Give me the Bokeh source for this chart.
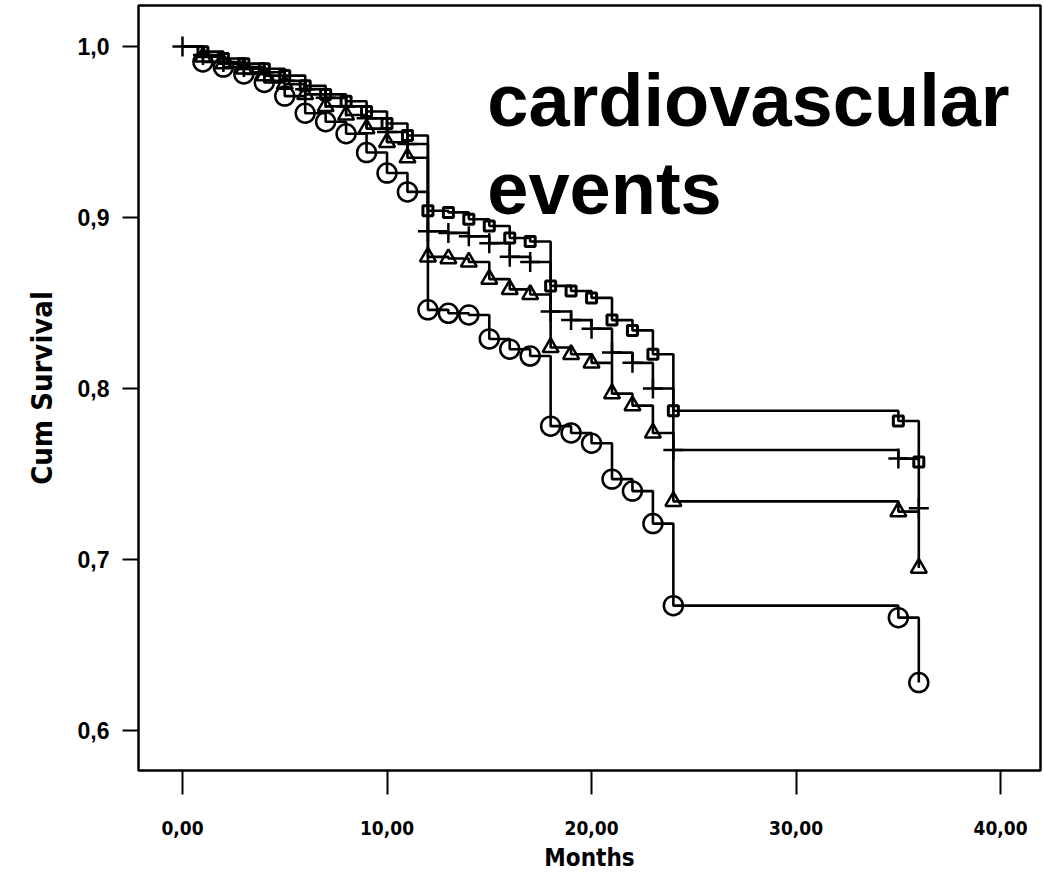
from bokeh.plotting import figure
from bokeh.models import FixedTicker, Label, Range1d
from bokeh.embed import file_html
from bokeh.resources import INLINE

# ---------------- data ----------------
months = [0, 1, 2, 3, 4, 5, 6, 7, 8, 9, 10, 11, 12, 13, 14, 15, 16, 17,
          18, 19, 20, 21, 22, 23, 24, 35, 36]

surv_square = [1.0, 0.997, 0.993, 0.990, 0.987, 0.983, 0.977, 0.972, 0.968,
               0.962, 0.955, 0.948, 0.904, 0.903, 0.899, 0.895, 0.888, 0.886,
               0.860, 0.857, 0.853, 0.840, 0.834, 0.820, 0.787, 0.781, 0.757]
surv_plus = [1.0, 0.995, 0.991, 0.988, 0.985, 0.980, 0.975, 0.970, 0.965,
             0.958, 0.950, 0.943, 0.892, 0.891, 0.889, 0.885, 0.877, 0.874,
             0.845, 0.840, 0.835, 0.821, 0.815, 0.800, 0.764, 0.759, 0.730]
surv_triangle = [1.0, 0.994, 0.990, 0.987, 0.983, 0.978, 0.972, 0.965, 0.960,
                 0.952, 0.944, 0.935, 0.877, 0.876, 0.874, 0.864, 0.858, 0.855,
                 0.824, 0.820, 0.815, 0.797, 0.790, 0.774, 0.734, 0.728, 0.695]
surv_circle = [1.0, 0.991, 0.988, 0.984, 0.979, 0.971, 0.961, 0.956, 0.949,
               0.938, 0.926, 0.915, 0.846, 0.844, 0.843, 0.829, 0.823, 0.819,
               0.778, 0.774, 0.768, 0.747, 0.740, 0.721, 0.673, 0.666, 0.628]

x_ticks = [0, 10, 20, 30, 40]
x_tick_labels = ["0,00", "10,00", "20,00", "30,00", "40,00"]
y_ticks = [0.6, 0.7, 0.8, 0.9, 1.0]
y_tick_labels = ["0,6", "0,7", "0,8", "0,9", "1,0"]

title_lines = ["cardiovascular", "events"]

SANS = "Arial"
NARROW = "DejaVu Sans Condensed"

# ---------------- figure ----------------
p = figure(frame_width=902, frame_height=765,
           x_range=Range1d(-2.15, 41.95), y_range=Range1d(0.5766, 1.024),
           output_backend="svg", toolbar_location=None,
           min_border_left=138, min_border_right=3,
           min_border_top=5, min_border_bottom=108)
p.background_fill_color = "white"
p.border_fill_color = "white"
p.outline_line_color = "black"
p.outline_line_width = 2.5
p.xgrid.visible = False
p.ygrid.visible = False

# x axis
p.xaxis.ticker = FixedTicker(ticks=x_ticks)
p.xaxis.major_label_overrides = dict(zip(x_ticks, x_tick_labels))
p.xaxis.axis_line_color = None
p.xaxis.major_tick_in = 0
p.xaxis.major_tick_out = 24
p.xaxis.major_tick_line_width = 2
p.xaxis.minor_tick_line_color = None
p.xaxis.major_label_standoff = 26
p.xaxis.major_label_text_font = NARROW
p.xaxis.major_label_text_font_style = "bold"
p.xaxis.major_label_text_font_size = "19px"
p.xaxis.major_label_text_color = "black"
p.xaxis.axis_label = "Months"
p.xaxis.axis_label_text_font = NARROW
p.xaxis.axis_label_text_font_style = "bold"
p.xaxis.axis_label_text_font_size = "24px"
p.xaxis.axis_label_text_color = "black"
p.xaxis.axis_label_standoff = 6

# y axis
p.yaxis.ticker = FixedTicker(ticks=y_ticks)
p.yaxis.major_label_overrides = dict(zip(y_ticks, y_tick_labels))
p.yaxis.axis_line_color = None
p.yaxis.major_tick_in = 0
p.yaxis.major_tick_out = 16
p.yaxis.major_tick_line_width = 2
p.yaxis.minor_tick_line_color = None
p.yaxis.major_label_standoff = 13
p.yaxis.major_label_text_font = SANS
p.yaxis.major_label_text_font_style = "bold"
p.yaxis.major_label_text_font_size = "23px"
p.yaxis.major_label_text_color = "black"
p.yaxis.axis_label = "Cum Survival"
p.yaxis.axis_label_text_font = NARROW
p.yaxis.axis_label_text_font_style = "bold"
p.yaxis.axis_label_text_font_size = "29px"
p.yaxis.axis_label_text_color = "black"
p.yaxis.axis_label_standoff = 16

# ---------------- curves ----------------
series = [
    (surv_square, "square", 10, 3),
    (surv_plus, "cross", 20, 2.5),
    (surv_triangle, "triangle", 16, 2.5),
    (surv_circle, "circle", 19, 2.5),
]
for surv, marker, size, lw in series:
    p.step(months, surv, mode="after", line_color="black", line_width=2.6)
    mx = months[1:]
    my = surv[1:]
    if marker == "cross":
        mx = months
        my = surv
    p.scatter(mx, my, marker=marker, size=size, line_color="black",
              line_width=lw, fill_color=None)

# ---------------- title text ----------------
title_x = 14.9
title_y = [0.9684, 0.917]
for txt, ty in zip(title_lines, title_y):
    p.add_layout(Label(x=title_x, y=ty, text=txt, text_font=SANS,
                       text_font_style="bold", text_font_size="74px",
                       text_color="black", text_baseline="alphabetic"))

open("out.html", "w").write(file_html(p, INLINE))
